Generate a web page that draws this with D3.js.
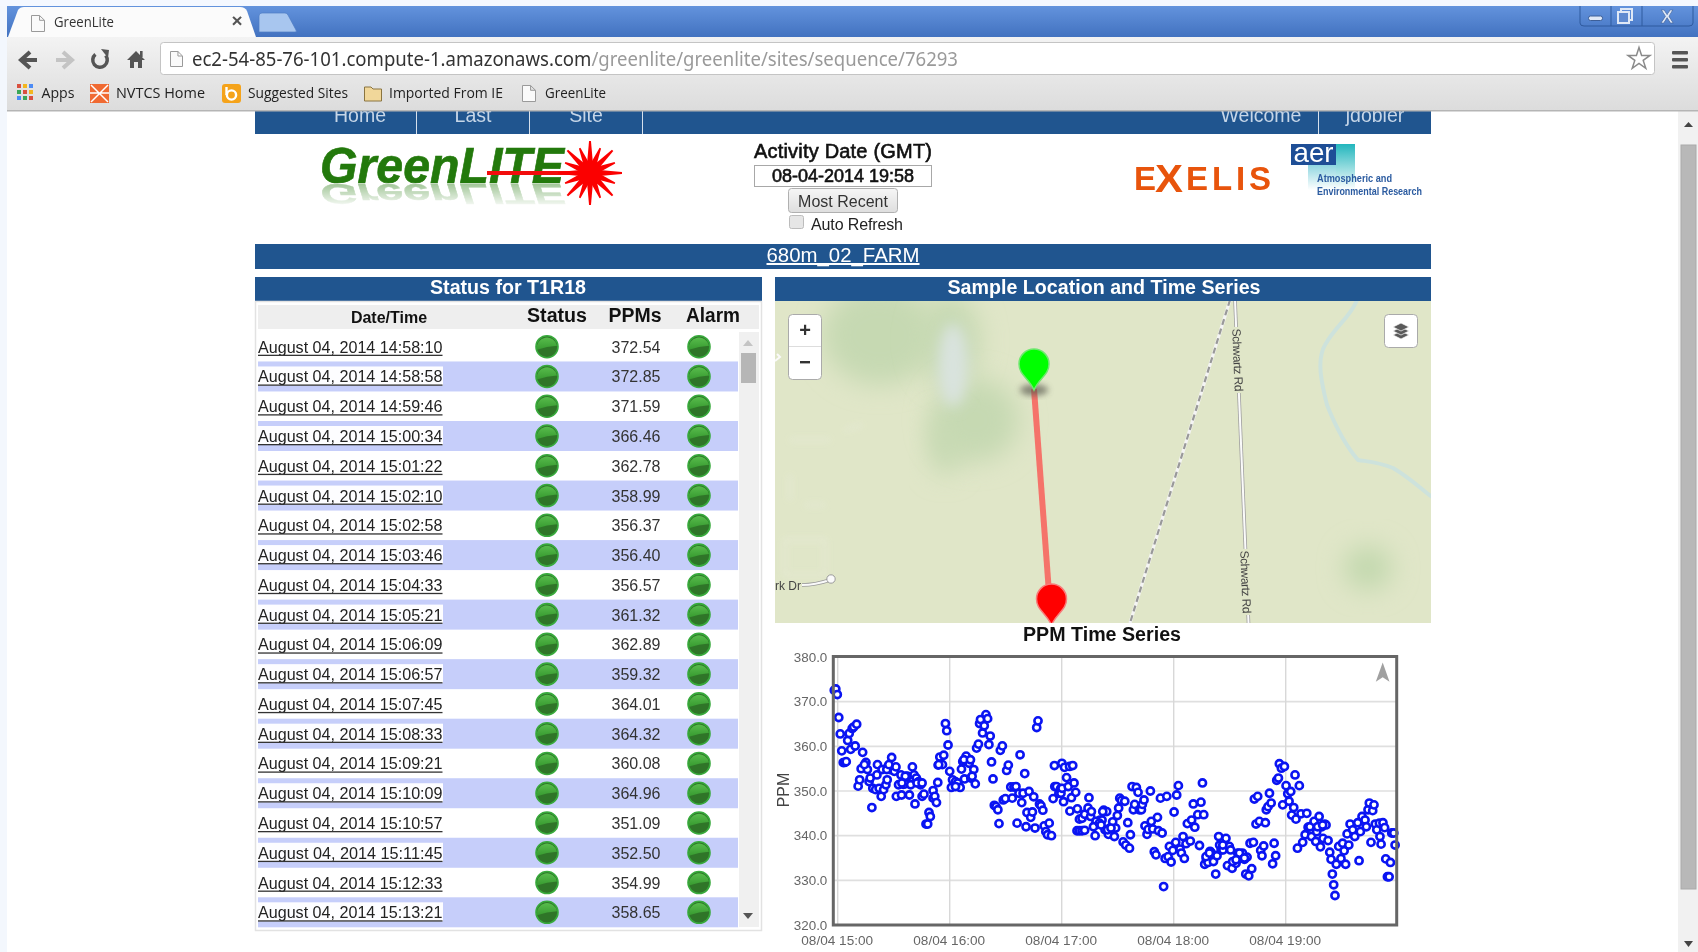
<!DOCTYPE html>
<html><head><meta charset="utf-8"><title>GreenLite</title>
<script src="https://cdn.jsdelivr.net/npm/d3@7"></script>
<style>html,body{margin:0;padding:0;background:#fff;overflow:hidden}svg{display:block;font-family:"Liberation Sans",Arial,sans-serif;filter:blur(.4px)}</style>
</head><body><div id="root"></div>
<script>
// ---------- data ----------
const tableTimes = ["14:58:10","14:58:58","14:59:46","15:00:34","15:01:22","15:02:10","15:02:58","15:03:46","15:04:33","15:05:21","15:06:09","15:06:57","15:07:45","15:08:33","15:09:21","15:10:09","15:10:57","15:11:45","15:12:33","15:13:21"];
const tablePpms = [372.54,372.85,371.59,366.46,362.78,358.99,356.37,356.40,356.57,361.32,362.89,359.32,364.01,364.32,360.08,364.96,351.09,352.50,354.99,358.65];
// later readings, minutes after 15:00
const seriesMinutes = [15.1,15.9,16.8,17.4,18.3,18.8,20.3,21.0,21.3,22.2,23.3,23.8,24.6,25.8,26.5,26.9,28.1,28.9,30.3,31.2,31.4,32.6,33.9,34.2,35.1,36.2,37.3,38.4,39.1,40.0,40.9,41.4,42.1,43.4,44.4,45.2,46.2,47.3,48.2,48.9,49.6,51.1,51.1,52.0,52.9,53.6,53.8,54.7,56.1,56.8,57.7,58.4,59.1,60.0,60.9,61.5,63.1,64.3,65.6,66.3,67.0,67.9,68.8,70.4,71.3,72.9,73.7,74.4,75.4,76.0,76.5,77.6,78.5,79.4,80.3,81.0,81.7,82.4,83.2,83.9,84.8,85.8,86.4,87.1,88.2,88.7,89.8,90.5,91.4,92.7,93.5,94.4,95.5,96.1,97.1,97.7,98.6,99.3,100.2,100.9,101.4,102.5,103.4,104.3,105.0,105.7,106.6,107.3,108.1,108.9,109.9,110.6,111.5,112.4,113.3,114.5,115.4,116.1,116.3,117.2,118.5,119.4,119.6,120.1,120.2,121.0,121.5,122.6,123.5,124.2,124.4,125.2,125.9,126.6,127.5,128.2,128.4,129.5,129.5,130.9,130.9,132.3,132.3,134.1,134.6,135.5,135.9,137.9,137.9,139.3,140.5,141.6,142.5,143.2,144.1,145.0,145.5,147.3,148.2,148.9,149.8,150.5,151.1,152.0,152.9,153.8,154.3,155.4,156.3,156.8,157.7,158.4,159.1,160.0,160.9,161.6,162.7,163.2,164.1,164.6,165.7,166.3,167.5,168.0,168.8,169.6,170.5,171.3,171.8,172.9,173.8,174.6,175.4,176.3,177.0,177.7,178.6,179.5,180.2,181.1,181.6,182.5,183.4,184.1,185.0,185.7,186.6,187.3,188.9,189.6,190.5,191.3,192.9,193.8,194.6,195.4,196.1,196.6,197.5,198.4,199.5,200.2,201.3,202.5,203.2,204.1,204.6,205.4,206.4,208.0,208.8,209.8,210.5,211.3,212.5,213.4,214.3,215.4,216.8,217.9,218.6,219.3,220.2,220.9,221.8,222.7,223.2,224.1,225.0,225.9,226.6,227.3,228.2,229.1,229.6,230.5,231.3,232.2,233.0,233.8,234.6,235.2,236.1,236.6,237.7,238.4,239.3,240.2,241.1,241.8,242.7,243.2,244.3,245.0,245.5,246.3,247.3,248.2,249.1,250.4,251.3,252.0,253.0,253.8,255.2,256.1,256.6,257.9,258.6,259.3,260.0,260.9,261.6,262.7,263.6,264.3,265.0,265.7,266.4,267.1,268.4,269.6,270.5,271.3,272.1,272.9,273.8,274.5,275.9,277.0,278.6,279.3,280.0,280.9,282.5,283.2,284.1,284.8,285.7,286.6,287.3,288.0,288.8,290.2,290.5,291.1,292.1,293.0,293.6,294.5,295.4,296.1,296.8,297.9,298.6,
  14.3,26.3,27.4,36.2,34.4,42.5,45.2,54.1,67.6,71.1,72.0,63.1,138.4,137.0,140.2,141.1,144.6,146.4,142.0,197.3,199.1,206.3,211.6,215.2,213.4,217.9,257.1,259.8];
const seriesPpm = [356.4,354.8,352.1,352.9,346.3,350.6,350.3,353.6,355.9,350.6,348.8,354.8,350.3,351.4,352.5,355.5,354.8,357.5,354.4,355.4,348.8,351.4,353.6,349.1,351.5,351.6,353.3,349.1,351.4,355.4,353.6,347.1,352.9,352.1,351.4,348.8,349.3,342.6,342.6,345.2,344.3,350.1,348.4,348.8,347.4,351.9,355.8,357.6,355.9,358.0,365.1,363.5,360.3,354.4,350.8,352.5,352.1,351.8,350.8,354.9,356.6,352.7,357.8,356.2,352.9,354.8,351.6,359.6,360.5,365.1,366.0,363.0,364.6,367.1,366.2,360.4,362.3,356.5,352.7,346.8,346.5,345.8,342.7,359.1,360.1,348.0,348.3,354.6,355.8,350.9,348.4,350.9,351.0,342.8,349.5,358.1,347.4,349.5,353.9,342.0,345.2,349.9,344.1,345.3,348.7,341.7,364.2,365.7,347.1,346.7,345.7,342.2,340.9,340.2,342.8,340.0,348.3,355.7,351.0,351.0,349.5,350.5,349.5,356.2,350.6,347.6,355.3,353.0,351.0,355.5,345.5,348.5,355.7,351.8,349.7,341.1,346.0,343.7,341.1,343.9,341.1,344.8,341.2,346.2,348.5,344.3,345.4,340.0,342.4,342.9,343.5,343.5,345.7,341.3,345.4,340.3,341.6,343.1,339.8,341.7,344.5,346.2,348.4,347.9,338.6,347.7,337.9,342.9,337.2,340.2,351.0,345.8,347.0,350.8,349.7,345.8,345.8,347.0,348.0,342.2,340.3,341.4,350.0,343.2,341.5,336.4,335.7,344.1,341.1,348.4,340.6,328.6,334.9,348.8,335.3,337.6,334.1,336.7,345.3,338.5,349.1,351.2,337.0,336.1,339.8,334.9,338.2,342.7,338.8,343.5,347.1,341.9,344.7,337.8,347.5,351.8,344.7,333.6,334.7,334.0,336.5,336.1,334.2,331.4,335.5,339.8,337.9,336.8,336.8,339.4,333.3,337.6,336.8,332.7,334.2,333.8,336.1,334.9,336.1,334.7,331.4,335.2,331.0,338.3,332.6,338.5,348.2,342.6,348.8,343.2,336.7,335.5,337.7,342.9,345.8,346.5,349.5,347.3,333.7,338.3,335.5,352.4,352.9,356.1,355.1,346.9,355.5,351.2,349.4,347.7,349.9,344.6,346.3,353.6,343.7,337.2,351.2,344.9,338.5,340.2,345.0,341.9,342.0,339.8,343.2,338.7,340.9,344.3,337.5,342.0,339.4,342.6,342.4,338.9,336.3,334.7,331.4,329.0,326.6,333.6,337.6,334.9,338.3,336.6,333.6,340.4,337.9,342.6,341.3,339.8,342.9,334.4,340.9,344.3,343.5,342.0,345.8,347.3,338.5,345.6,346.9,342.6,341.3,342.8,339.8,338.1,342.9,341.8,334.8,330.8,330.8,334.0,340.6,340.6,337.9,
  355.9,354.8,355.9,353.3,351.8,351.8,351.8,355.9,357.0,357.0,353.3,351.0,343.2,342.0,342.8,342.4,341.3,341.7,345.4,335.3,336.1,337.9,334.2,336.1,334.6,335.0,342.0,342.4];
const yTicks = [320,330,340,350,360,370,380];
const xTickHours = [15,16,17,18,19];
const xDomainStart = "14:57:38", xDomainEnd = "19:59:28";
const navLeft = ["Home","Last","Site"], navRight = ["Welcome","jdobler"];
const bookmarks = ["Apps","NVTCS Home","Suggested Sites","Imported From IE","GreenLite"];
const tableHeads = ["Date/Time","Status","PPMs","Alarm"];

// ---------- helpers ----------
const stamp = s => { const p = s.split(":").map(Number); return new Date(Date.UTC(2014,7,4,p[0],p[1],p[2])); };
const W = 1698, H = 952, BLUE = "#20558f";
const svg = d3.select("#root").append("svg").attr("width",W).attr("height",H).attr("viewBox",`0 0 ${W} ${H}`);
const defs = svg.append("defs");
function grad(id, stops, x2=0, y2=1){
  const g = defs.append("linearGradient").attr("id",id).attr("x1",0).attr("y1",0).attr("x2",x2).attr("y2",y2);
  stops.forEach(s=>g.append("stop").attr("offset",s[0]).attr("stop-color",s[1]).attr("stop-opacity",s[2]===undefined?1:s[2]));
}
grad("gTitle",[[0,"#6393dd"],[1,"#4272c0"]]);
grad("gTool",[[0,"#f3f3f3"],[1,"#dcdcdc"]]);
grad("gBtn",[[0,"#f6f6f6"],[1,"#dedede"]]);
grad("gFade",[[0,"#fff",.42],[1,"#fff",0]]);
grad("gTeal",[[0,"#22b6bd"],[1,"#ffffff"]]);
grad("gTealL",[[0,"#8fd6e0"],[1,"#ffffff"]]);
defs.append("filter").attr("id","blur12").attr("x","-60%").attr("y","-60%").attr("width","220%").attr("height","220%").append("feGaussianBlur").attr("stdDeviation",13);
defs.append("filter").attr("id","blur6").attr("x","-80%").attr("y","-40%").attr("width","260%").attr("height","180%").append("feGaussianBlur").attr("stdDeviation",7);
defs.append("filter").attr("id","blur3").attr("x","-40%").attr("y","-40%").attr("width","180%").attr("height","180%").append("feGaussianBlur").attr("stdDeviation",3);
defs.append("clipPath").attr("id","mapClip").append("rect").attr("x",775).attr("y",301).attr("width",656).attr("height",322);
defs.append("mask").attr("id","fadeMask").attr("maskUnits","userSpaceOnUse").attr("x",300).attr("y",184).attr("width",300).attr("height",24)
  .append("rect").attr("x",300).attr("y",184).attr("width",300).attr("height",24).attr("fill","url(#gFade)");
const rg = defs.append("linearGradient").attr("id","gLed").attr("x1",0).attr("y1",0).attr("x2",0).attr("y2",1);
rg.append("stop").attr("offset",0).attr("stop-color","#58bc4c");
rg.append("stop").attr("offset",1).attr("stop-color","#379a30");

function rect(p,x,y,w,h,fill,extra={}){ const r=p.append("rect").attr("x",x).attr("y",y).attr("width",w).attr("height",h).attr("fill",fill); Object.entries(extra).forEach(([k,v])=>r.attr(k,v)); return r; }
function text(p,x,y,t,size,fill,opts={}){
  const e=p.append("text").attr("x",x).attr("y",y).attr("font-size",size).attr("fill",fill).text(t);
  Object.entries(opts).forEach(([k,v])=>e.attr(k,v)); return e;
}
function docIcon(p,x,y,w,h){
  p.append("path").attr("d",`M${x},${y}H${x+w*.62}L${x+w},${y+h*.3}V${y+h}H${x}Z M${x+w*.62},${y}V${y+h*.3}H${x+w}`).attr("fill","#fafafa").attr("stroke","#9a9a9a").attr("stroke-width",1);
}
const FIT={lengthAdjust:"spacingAndGlyphs"};

const page = svg.append("g");
rect(page,0,0,W,H,"#fff");
rect(page,0,0,7,H,"#f3f7fd");

// ---------- site header ----------
rect(page,255,105,1176,29,BLUE);
navLeft.forEach((t,i)=>text(page,[360,473,586][i],122,t,19.5,"#c6d6e8",{"text-anchor":"middle"}));
navRight.forEach((t,i)=>text(page,[1261,1375][i],122,t,19.5,"#c6d6e8",{"text-anchor":"middle"}));
[416,529,642,1318].forEach(x=>rect(page,x,111,1,23,"#d5e0ec"));

// logo
const logo = page.append("g");
text(logo,320,183,"GreenLITE",50,"#23790c",{id:"logoText","font-weight":"bold","font-style":"italic",textLength:244,...FIT,stroke:"#23790c","stroke-width":.7});
logo.append("g").attr("mask","url(#fadeMask)").append("use").attr("href","#logoText").attr("transform","translate(0,184) scale(1,-0.6) translate(0,-183)");
logo.append("line").attr("x1",487).attr("x2",590).attr("y1",173).attr("y2",173).attr("stroke","#f20d0d").attr("stroke-width",4);
d3.range(16).forEach(i=>{
  const a=i*Math.PI/8, rOut=i%2?27:32, n=.3, ri=10, tw=.03;
  logo.append("path").attr("d",`M${590+ri*Math.cos(a-n)},${173+ri*Math.sin(a-n)}L${590+rOut*Math.cos(a-tw)},${173+rOut*Math.sin(a-tw)}L${590+rOut*Math.cos(a+tw)},${173+rOut*Math.sin(a+tw)}L${590+ri*Math.cos(a+n)},${173+ri*Math.sin(a+n)}Z`).attr("fill","#fb0000");
});
logo.append("circle").attr("cx",590).attr("cy",173).attr("r",11).attr("fill","#fb0000");

// activity date
text(page,843,158,"Activity Date (GMT)",20,"#111",{"text-anchor":"middle",textLength:178,stroke:"#111","stroke-width":.6});
rect(page,754.5,165.5,177,21,"#fff",{stroke:"#a8a8a8"});
text(page,843,182,"08-04-2014 19:58",18,"#111",{"text-anchor":"middle",stroke:"#111","stroke-width":.6});
rect(page,788.5,188.5,109,24,"url(#gBtn)",{stroke:"#b0b0b0",rx:3});
text(page,843,207,"Most Recent",16,"#333",{"text-anchor":"middle"});
rect(page,789.5,215.5,14,13,"#e6e6e6",{stroke:"#bcbcbc",rx:2});
text(page,811,230,"Auto Refresh",16,"#222",{textLength:92});

// Exelis
const EX="#e8540c";
text(page,1134,190,"E",33,EX,{"font-weight":"bold"});
text(page,1155,192,"X",38,EX,{"font-weight":"bold",textLength:28,...FIT});
text(page,1186,190,"ELIS",33,EX,{"font-weight":"bold",textLength:85});
// AER
rect(page,1336,144,19,46,"url(#gTeal)");
rect(page,1308,165,28,25,"url(#gTealL)");
rect(page,1291,144,45,21,"#1e4e96");
text(page,1293.5,162,"aer",28,"#fff",{textLength:40,...FIT});
text(page,1317,182,"Atmospheric and",10,"#2b5ba0",{"font-weight":"bold",textLength:75,...FIT});
text(page,1317,195,"Environmental Research",10,"#2b5ba0",{"font-weight":"bold",textLength:105,...FIT});

// bars
rect(page,255,244,1176,25,BLUE);
text(page,843,262,"680m_02_FARM",20,"#fff",{"text-anchor":"middle","text-decoration":"underline",textLength:153,...FIT});
rect(page,255,277,507,24,BLUE);
text(page,508,294,"Status for T1R18",20,"#fff",{"text-anchor":"middle","font-weight":"bold",textLength:156,...FIT});
rect(page,775,277,656,24,BLUE);
text(page,1104,294,"Sample Location and Time Series",20,"#fff",{"text-anchor":"middle","font-weight":"bold",textLength:313,...FIT});

// ---------- status table ----------
const tbl = page.append("g");
rect(tbl,255.5,301.5,506,629,"#fff",{stroke:"#e2e2e2","stroke-width":1.5});
rect(tbl,258,305,501,24,"#eeeeee");
text(tbl,389,323,tableHeads[0],16,"#111",{"text-anchor":"middle","font-weight":"bold"});
[[557,60],[635,53],[713,54]].forEach(([x,w],i)=>text(tbl,x,322,tableHeads[i+1],19.5,"#111",{"text-anchor":"middle","font-weight":"bold",textLength:w,...FIT}));
rect(tbl,739,332,20,595,"#f0f0f0");
tbl.append("path").attr("d","M743,346l5,-6l5,6Z").attr("fill","#c4c4c4");
rect(tbl,741,353,15,30,"#b6b6b6");
tbl.append("path").attr("d","M743,913l5,6l5,-6Z").attr("fill","#555");
const rowY = d3.scaleLinear().domain([0,19]).range([346.7,912.3]);
function led(g,x,y){
  g.append("circle").attr("cx",x).attr("cy",y).attr("r",11).attr("fill","#2f7528").attr("stroke","#38aa3c").attr("stroke-width",1.6);
  g.append("path").attr("d",`M${x-10},${y+3}A10,10 0 0 1 ${x+10},${y-1}Q${x},${y-0.5} ${x-10},${y+3}Z`).attr("fill","url(#gLed)");
}
const rows = tbl.selectAll("g.row").data(tableTimes.map((t,i)=>({t,p:tablePpms[i],i}))).join("g").attr("class","row");
rows.each(function(d){
  const g=d3.select(this), y=rowY(d.i);
  if(d.i%2===1){ rect(g,258,y-15,480,30,"#c6cefa"); rect(g,258,y-10,185,19,"#fdfdff"); }
  text(g,258,y+6,"August 04, 2014 "+d.t,16.5,"#222",{textLength:184.5,...FIT});
  rect(g,258,y+8,184.5,1.3,"#333");
  led(g,547,y); led(g,699,y);
  text(g,636,y+6,d.p.toFixed(2),16,"#333",{"text-anchor":"middle"});
});

// ---------- map ----------
const map = page.append("g").attr("clip-path","url(#mapClip)");
rect(map,775,301,656,322,"#e0e6c8");
const soft="#c6d9b2";
[[880,335,58,50],[950,340,30,45],[975,420,44,42],[945,445,16,30]].forEach(([cx,cy,rx,ry])=>map.append("ellipse").attr("cx",cx).attr("cy",cy).attr("rx",rx).attr("ry",ry).attr("fill",soft).attr("filter","url(#blur12)"));
map.append("ellipse").attr("cx",953).attr("cy",365).attr("rx",15).attr("ry",42).attr("fill","#d9e3de").attr("filter","url(#blur6)");
map.append("ellipse").attr("cx",1368).attr("cy",568).attr("rx",24).attr("ry",22).attr("fill","#c2d8ae").attr("filter","url(#blur12)");
map.append("path").attr("d","M790,475V500M790,440H830M845,430L862,425M805,505H825M785,540H825V575H785Z").attr("fill","none").attr("stroke","#e8ecd8").attr("stroke-width",2.5).attr("filter","url(#blur3)").attr("opacity",.8);
map.append("path").attr("d","M1357,300C1350,318 1336,325 1325,345C1316,360 1322,385 1327,405C1335,425 1345,445 1358,460C1372,462 1378,462 1393,468C1410,478 1420,488 1432,497").attr("fill","none").attr("stroke","#cde2dc").attr("stroke-width",4);
map.append("line").attr("x1",1230).attr("y1",300).attr("x2",1130).attr("y2",623).attr("stroke","#f4f4f4").attr("stroke-width",3.2);
map.append("line").attr("x1",1230).attr("y1",300).attr("x2",1130).attr("y2",623).attr("stroke","#999").attr("stroke-width",2.2).attr("stroke-dasharray","6 4");
map.append("line").attr("x1",1235).attr("y1",300).attr("x2",1248.5).attr("y2",623).attr("stroke","#a0a0a0").attr("stroke-width",3.6);
map.append("line").attr("x1",1235).attr("y1",300).attr("x2",1248.5).attr("y2",623).attr("stroke","#fafafa").attr("stroke-width",2);
[[1237.5,360,87.6],[1245.5,582,87.6]].forEach(([x,y,a])=>{
  rect(map,x-5,y-33,10,66,"#e0e6c8");
  text(map,0,4,"Schwartz Rd",12,"#444",{"text-anchor":"middle",textLength:63,transform:`translate(${x},${y}) rotate(${a})`});
});
map.append("path").attr("d","M802,585Q815,585 830,580").attr("fill","none").attr("stroke","#9a9a9a").attr("stroke-width",3.5);
map.append("path").attr("d","M802,585Q815,585 830,580").attr("fill","none").attr("stroke","#fafafa").attr("stroke-width",2);
map.append("circle").attr("cx",831).attr("cy",579).attr("r",4.2).attr("fill","#fafafa").attr("stroke","#9a9a9a");
text(map,775,590,"rk Dr",12,"#444");
map.append("path").attr("d","M775,361l5,-4l-3,-3").attr("fill","none").attr("stroke","#fafafa").attr("stroke-width",2);
// path between sensor markers
map.append("line").attr("x1",1034).attr("y1",389).attr("x2",1051).attr("y2",620).attr("stroke","#f5736a").attr("stroke-width",6);
map.append("ellipse").attr("cx",1034).attr("cy",390).attr("rx",14).attr("ry",5.5).attr("fill","#5a5a50").attr("filter","url(#blur3)").attr("opacity",.7);
const pin=(cx,tip,color,edge)=>{
  const top=tip-41, r=15, cy=top+r;
  map.append("path").attr("d",`M${cx},${tip}C${cx-5},${tip-12} ${cx-r},${cy+11} ${cx-r},${cy}A${r},${r} 0 0 1 ${cx+r},${cy}C${cx+r},${cy+11} ${cx+5},${tip-12} ${cx},${tip}Z`).attr("fill",color).attr("stroke",edge).attr("stroke-width",1.5);
};
pin(1034,390,"#00ff00","#6fe86f");
pin(1051.5,625,"#ff0000","#fa7a7a");
// zoom controls
rect(page,788.5,314.5,33,65,"#fff",{stroke:"#aaa",rx:4});
rect(page,789,346,32,1,"#ddd");
text(page,805,337,"+",20,"#333",{"text-anchor":"middle","font-weight":"bold"});
rect(page,800,361,10,2.4,"#333");
rect(page,1384.5,314.5,33,33,"#fff",{stroke:"#aaa",rx:4});
[338,334,330].forEach(y=>page.append("path").attr("d",`M1393,${y-3}L1401,${y-7}L1409,${y-3}L1401,${y+1}Z`).attr("fill","#5a5a5a").attr("stroke","#fff").attr("stroke-width",.7));

// ---------- PPM time series ----------
text(page,1102,641,"PPM Time Series",20,"#111",{"text-anchor":"middle","font-weight":"bold",textLength:158,...FIT});
const times = tableTimes.map(stamp).concat(seriesMinutes.map(m=>new Date(Date.UTC(2014,7,4,15)+m*60000)));
const ppms = tablePpms.concat(seriesPpm);
const points = times.map((t,i)=>({t,p:ppms[i]}));
const frame = {l:833.3,r:1396.7,t:656.5,b:925};
const x = d3.scaleTime().domain([stamp(xDomainStart),stamp(xDomainEnd)]).range([frame.l,frame.r]);
const y = d3.scaleLinear().domain([320,380]).range([frame.b,frame.t+.5]);
const chart = page.append("g");
rect(chart,frame.l,frame.t,frame.r-frame.l,frame.b-frame.t,"#fff");
const xTicks = xTickHours.map(h=>new Date(Date.UTC(2014,7,4,h)));
chart.append("g").selectAll("line").data(yTicks.slice(1,-1)).join("line").attr("x1",frame.l).attr("x2",frame.r).attr("y1",d=>y(d)).attr("y2",d=>y(d)).attr("stroke","#dfdfdf").attr("stroke-width",1.6);
chart.append("g").selectAll("line").data(xTicks).join("line").attr("y1",frame.t).attr("y2",frame.b).attr("x1",d=>x(d)).attr("x2",d=>x(d)).attr("stroke","#d8d8d8").attr("stroke-width",1.4);
const yAxis = d3.axisLeft(y).tickValues(yTicks).tickFormat(d=>d.toFixed(1)).tickSize(0).tickPadding(6);
const xAxis = d3.axisBottom(x).tickValues(xTicks).tickFormat(d3.utcFormat("%m/%d %H:%M")).tickSize(0).tickPadding(10);
chart.append("g").attr("transform",`translate(${frame.l},0)`).call(yAxis).call(g=>{g.select(".domain").remove();g.selectAll("text").attr("font-size",13.4).attr("font-family","Liberation Sans").attr("fill","#666");});
chart.append("g").attr("transform",`translate(-1,${frame.b})`).call(xAxis).call(g=>{g.select(".domain").remove();g.selectAll("text").attr("font-size",13.6).attr("font-family","Liberation Sans").attr("fill","#666");});
text(chart,0,0,"PPM",16,"#444",{"text-anchor":"middle",transform:"translate(789,790) rotate(-90)"});
chart.append("g").selectAll("circle").data(points).join("circle").attr("cx",d=>x(d.t)).attr("cy",d=>y(d.p)).attr("r",3.6).attr("fill","#fff").attr("stroke","#0a14f2").attr("stroke-width",2.6);
rect(chart,frame.l,frame.t,frame.r-frame.l,frame.b-frame.t,"none",{stroke:"#666","stroke-width":3});
chart.append("path").attr("d","M1382.7,662.5L1389.5,681.7L1382.7,677.3L1375.8,681.7Z").attr("fill","#a0a0a0");

// ---------- page scrollbar ----------
rect(page,1678,111,20,841,"#f1f1f1");
page.append("path").attr("d","M1684,127l4.5,-5l4.5,5Z").attr("fill","#444");
rect(page,1681,145,15,744,"#b8b8b8",{stroke:"#aaa"});
page.append("path").attr("d","M1684,941l4.5,6l4.5,-6Z").attr("fill","#444");

// ---------- browser chrome ----------
const ch = svg.append("g");
rect(ch,0,0,W,6,"#f4f8ff");
rect(ch,0,6,W,31,"url(#gTitle)");
rect(ch,0,6,7,31,"#f3f7fd");
ch.append("path").attr("d","M259,32H295Q297,32 296,30L288,15Q287,13 285,13H262Q259,13 259,16Z").attr("fill","#a8c6ef").attr("stroke","#4f7cc4").attr("stroke-width",.7);
ch.append("path").attr("d","M8,37L18,10Q20,7 24,7H240Q245,7 247,11L256,37Z").attr("fill","#fbfbfb");
docIcon(ch,31.5,15.5,13,16);
text(ch,54,27,"GreenLite",14,"#333",{"font-family":"Open Sans",textLength:60,...FIT});
text(ch,237,27,"×",19,"#555",{"text-anchor":"middle","font-weight":"bold"});
// window buttons
ch.append("path").attr("d","M1580,6V23Q1580,26 1584,26H1689Q1693,26 1693,23V6").attr("fill","none").attr("stroke","#2f5a9e");
ch.append("path").attr("d","M1611,6V26M1642,6V26").attr("stroke","#2f5a9e");
rect(ch,1588.5,16,14,4.5,"#dfe8f6",{stroke:"#3d5f98",rx:2});
rect(ch,1621,9,11,11,"none",{stroke:"#dfe8f6","stroke-width":2});
rect(ch,1618,12,11,11,"#5f8ad0",{stroke:"#dfe8f6","stroke-width":2});
text(ch,1667,23,"X",19,"#dfe8f6",{"text-anchor":"middle","font-weight":"bold",stroke:"#3d5f98","stroke-width":.5});
// toolbar
rect(ch,7,37,W-7,73,"url(#gTool)");
rect(ch,0,37,7,74,"#f3f7fd");
rect(ch,7,110,W-7,1.5,"#b5b5b5");
rect(ch,160.5,42.5,1494,32,"#fff",{stroke:"#c4c4c4",rx:3});
ch.append("path").attr("d","M37,60H23M30,52L21,60L30,68").attr("fill","none").attr("stroke","#555").attr("stroke-width",4);
ch.append("path").attr("d","M56,60H70M63,52L72,60L63,68").attr("fill","none").attr("stroke","#c4c4c4").attr("stroke-width",4);
ch.append("path").attr("d",d3.arc()({innerRadius:5.5,outerRadius:9,startAngle:.9,endAngle:5.6})).attr("transform","translate(100,60)").attr("fill","#555");
ch.append("path").attr("d","M101,49l8,1l-1,8Z").attr("fill","#555");
ch.append("path").attr("d","M136,51L145,60H142V68H138V62H134V68H130V60H127Z").attr("fill","#555");
rect(ch,140,51,2.6,6,"#555");
docIcon(ch,170.5,51.5,12,15);
const urlT = text(ch,192,66,"",19,"#333",{"font-family":"Noto Sans",textLength:766,...FIT});
urlT.append("tspan").attr("fill","#333").text("ec2-54-85-76-101.compute-1.amazonaws.com");
urlT.append("tspan").attr("fill","#9a9a9a").text("/greenlite/greenlite/sites/sequence/76293");
ch.append("path").attr("d",d3.symbol(d3.symbolStar,150)()).attr("transform","translate(1639,59)").attr("fill","#fff").attr("stroke","#8a8a8a").attr("stroke-width",1.5);
[52,59,66].forEach(yy=>rect(ch,1672,yy-1,16,3.4,"#555",{rx:1}));
// bookmarks
const dotCols=["#d9503f","#f3b61f","#4c8bf5","#3aa757","#d9503f","#f3b61f","#4c8bf5","#3aa757","#d9503f"];
d3.range(9).forEach(i=>rect(ch,17+(i%3)*6,84+Math.floor(i/3)*6,4,4,dotCols[i]));
const bmX=[41.5,116,248,389,545], bmW=[33,89,100,114,61];
bookmarks.forEach((b,i)=>text(ch,bmX[i],98,b,14,"#222",{"font-family":"Open Sans",textLength:bmW[i],...FIT}));
rect(ch,90,84,19,19,"#f06a32");
ch.append("path").attr("d","M91,85L108,102M108,85L91,102M90,93H109").attr("stroke","#fff").attr("stroke-width",1.5);
rect(ch,222,84,19,19,"#f5a31a",{rx:3});
ch.append("circle").attr("cx",231.5).attr("cy",95).attr("r",4.6).attr("fill","none").attr("stroke","#fff").attr("stroke-width",2.4);
ch.append("path").attr("d","M226.5,87V95").attr("stroke","#fff").attr("stroke-width",2.4);
ch.append("path").attr("d","M364.5,87H371L373,89H381.5V101H364.5Z").attr("fill","#f1d79a").attr("stroke","#8a7440");
docIcon(ch,522.5,85.5,13,16);
</script></body></html>
